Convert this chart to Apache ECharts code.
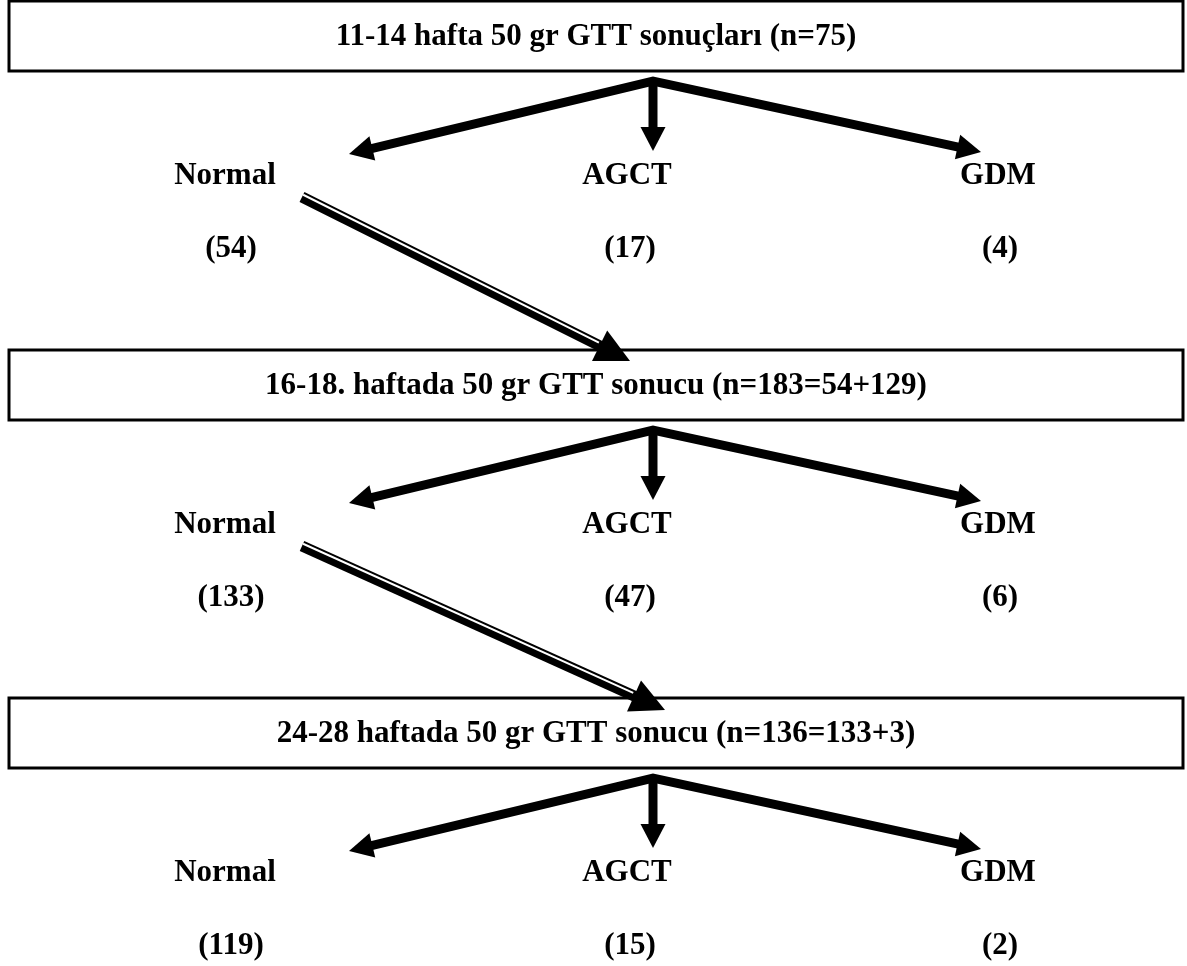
<!DOCTYPE html>
<html>
<head>
<meta charset="utf-8">
<script src="https://cdn.jsdelivr.net/npm/echarts@6/dist/echarts.min.js"></script>
<style>
html,body{margin:0;padding:0;background:#fff;}
#chart{width:1187px;height:966px;}
</style>
</head>
<body>
<div id="chart"></div>
<script>
// ---- data ----
const stages = [
  '11-14 hafta 50 gr GTT sonuçları (n=75)',
  '16-18. haftada 50 gr GTT sonucu (n=183=54+129)',
  '24-28 haftada 50 gr GTT sonucu (n=136=133+3)'
];
const outcomes = ['Normal', 'AGCT', 'GDM'];
const counts = [
  [54, 17, 4],
  [133, 47, 6],
  [119, 15, 2]
];
// Normal group of a stage is carried into the next stage
const carryFrom = [0, 1];

// ---- layout (data-space units = pixels of the 1187x966 canvas) ----
const W = 1187, H = 966;
const BOX_X0 = 9, BOX_X1 = 1183, BOX_H = 70;
const BOX_TOP = [1, 350, 698];
const APEX = [653, 80];                       // x, dy from box top
const TIP_X = [349, 653, 981];
const TIP_DY = [153, 150, 151];
const LABEL_X = [225, 627, 998];
const COUNT_X = [231, 630, 1000];
const LABEL_DY = 175, COUNT_DY = 248;
const CARRY_START = [302, 196];
const CARRY_TIP_X = [630, 665];
const CARRY_TIP_DY = 360;

const FONT = 'bold 31px "Liberation Serif", "Times New Roman", serif';

function boxItem(params, api) {
  const i = api.value(0);
  const p1 = api.coord([BOX_X0, BOX_TOP[i]]);
  const p2 = api.coord([BOX_X1, BOX_TOP[i] + BOX_H]);
  return {
    type: 'group',
    children: [
      { type: 'rect', shape: { x: p1[0], y: p1[1], width: p2[0] - p1[0], height: p2[1] - p1[1] },
        style: { fill: 'none', stroke: '#000', lineWidth: 3 } },
      { type: 'text', style: { text: stages[i], x: (p1[0] + p2[0]) / 2, y: (p1[1] + p2[1]) / 2 + 1,
        align: 'center', verticalAlign: 'middle', font: FONT, fill: '#000' } }
    ]
  };
}

function head(tip, u, len, half) {
  const bx = tip[0] - u[0] * len, by = tip[1] - u[1] * len;
  const n = [u[1], -u[0]];
  return [tip, [bx + n[0] * half, by + n[1] * half], [bx - n[0] * half, by - n[1] * half]];
}
function unit(a, b) {
  const dx = b[0] - a[0], dy = b[1] - a[1];
  const l = Math.sqrt(dx * dx + dy * dy);
  return [dx / l, dy / l];
}

function branchItem(params, api) {
  const i = api.value(0);
  const T = BOX_TOP[i];
  const apex = api.coord([APEX[0], T + APEX[1]]);
  const tips = [0, 1, 2].map(j => api.coord([TIP_X[j], T + TIP_DY[j]]));
  const HL = 24, HH = 12.5;
  const bases = tips.map(t => {
    const u = unit(apex, t);
    return [t[0] - u[0] * (HL - 2), t[1] - u[1] * (HL - 2)];
  });
  const children = [
    { type: 'polyline', shape: { points: [bases[0], apex, bases[2]] },
      style: { stroke: '#000', lineWidth: 9, fill: 'none', lineJoin: 'miter', lineCap: 'butt' } },
    { type: 'line', shape: { x1: apex[0], y1: apex[1], x2: bases[1][0], y2: bases[1][1] },
      style: { stroke: '#000', lineWidth: 9 } }
  ];
  tips.forEach(t => {
    children.push({ type: 'polygon', shape: { points: head(t, unit(apex, t), HL, HH) },
      style: { fill: '#000' } });
  });
  return { type: 'group', children };
}

function labelItem(params, api) {
  const i = api.value(0), j = api.value(1);
  const T = BOX_TOP[i];
  const a = api.coord([LABEL_X[j], T + LABEL_DY]);
  const b = api.coord([COUNT_X[j], T + COUNT_DY]);
  return {
    type: 'group',
    children: [
      { type: 'text', style: { text: outcomes[j], x: a[0], y: a[1], align: 'center', verticalAlign: 'middle', font: FONT, fill: '#000' } },
      { type: 'text', style: { text: '(' + counts[i][j] + ')', x: b[0], y: b[1], align: 'center', verticalAlign: 'middle', font: FONT, fill: '#000' } }
    ]
  };
}

function carryItem(params, api) {
  const k = api.value(0);
  const i = carryFrom[k];
  const T = BOX_TOP[i];
  const s = api.coord([CARRY_START[0], T + CARRY_START[1]]);
  const t = api.coord([CARRY_TIP_X[k], T + CARRY_TIP_DY]);
  const u = unit(s, t);
  const n = [u[1], -u[0]];
  const HL = 34, HH = 17;
  const e = [t[0] - u[0] * (HL - 2), t[1] - u[1] * (HL - 2)];
  const off = 2.5;
  return {
    type: 'group',
    children: [
      { type: 'line', shape: { x1: s[0], y1: s[1], x2: e[0], y2: e[1] },
        style: { stroke: '#000', lineWidth: 11, lineCap: 'butt' } },
      { type: 'line', shape: { x1: s[0] + n[0] * off, y1: s[1] + n[1] * off, x2: e[0] + n[0] * off - u[0] * 4, y2: e[1] + n[1] * off - u[1] * 4 },
        style: { stroke: '#fff', lineWidth: 2, lineCap: 'butt' } },
      { type: 'polygon', shape: { points: head(t, u, HL, HH) }, style: { fill: '#000' } }
    ]
  };
}

const chart = echarts.init(document.getElementById('chart'), null, { renderer: 'canvas' });
const pairs = [];
stages.forEach((s, i) => outcomes.forEach((o, j) => pairs.push([i, j])));
chart.setOption({
  backgroundColor: '#fff',
  animation: false,
  grid: { left: 0, right: 0, top: 0, bottom: 0 },
  xAxis: { type: 'value', min: 0, max: W, show: false },
  yAxis: { type: 'value', min: 0, max: H, inverse: true, show: false },
  series: [
    { type: 'custom', renderItem: boxItem, data: stages.map((s, i) => [i]), silent: true, clip: false },
    { type: 'custom', renderItem: branchItem, data: stages.map((s, i) => [i]), silent: true, clip: false },
    { type: 'custom', renderItem: labelItem, data: pairs, silent: true, clip: false },
    { type: 'custom', renderItem: carryItem, data: carryFrom.map((c, k) => [k]), silent: true, clip: false }
  ]
});
</script>
</body>
</html>
